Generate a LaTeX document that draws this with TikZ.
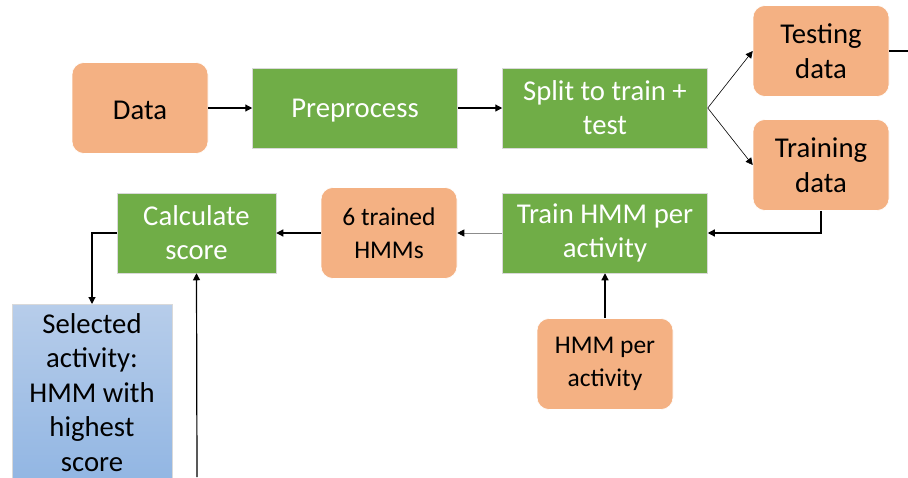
\documentclass[tikz,border=0pt]{standalone}
\usepackage{fontspec}
\setmainfont{Carlito}
\usetikzlibrary{arrows.meta}
\definecolor{boxorange}{HTML}{F4B183}
\definecolor{boxgreen}{HTML}{70AD47}
\definecolor{bluetop}{HTML}{B7CDEA}
\definecolor{bluebot}{HTML}{8DB3E2}
\tikzset{
  databox/.style={draw=white, line width=0.6pt, fill=boxorange, rounded corners=12pt,
    minimum width=136pt, minimum height=91pt, align=center, text=black,
    font=\fontsize{28.7}{34.5}\selectfont, inner sep=0pt},
  smallbox/.style={databox, font=\fontsize{25.5}{32.5}\selectfont},
  procbox/.style={draw=white!85!black, line width=0.5pt, fill=boxgreen,
    minimum width=205pt, minimum height=80pt, align=center, text=white,
    font=\fontsize{28.7}{34}\selectfont, inner sep=0pt},
  flow/.style={line width=1.2pt, -{Triangle[width=7pt,length=7pt]}},
  thinflow/.style={line width=0.6pt, -{Triangle[width=7pt,length=7pt]}},
}
\begin{document}
\begin{tikzpicture}[x=1pt,y=-1pt]
\useasboundingbox (0,0) rectangle (908,477);
% top row
\node[databox, text height=23pt, text depth=0pt] (data) at (140,108) {Data};
\node[procbox, text height=19pt, text depth=0pt] (pre) at (355,108) {Preprocess};
\node[procbox] (split) at (605,108) {Split to train +\\test};
\node[databox] (test) at (821,51) {Testing\\data};
\node[databox] (train) at (821,165) {Training\\data};
% middle row
\node[procbox] (hmm) at (605,233) {Train HMM per\\activity};
\node[smallbox] (trained) at (389,233) {6 trained\\HMMs};
\node[procbox, minimum width=159pt] (calc) at (196.5,233) {Calculate\\score};
\node[smallbox] (per) at (605,364) {HMM per\\activity};
% result box, running off the lower edge
\node[draw=white!85!black, line width=0.5pt, top color=bluetop, bottom color=bluebot,
  minimum width=160pt, minimum height=200pt, anchor=north, inner sep=0pt] (sel) at (92,304) {};
\node[align=center, anchor=north, font=\fontsize{28.7}{34.5}\selectfont, inner sep=0pt]
  (seltext) at (92,313) {Selected\\activity:\\HMM with\\highest\\score};
\coordinate (testout) at (908,51);
\coordinate (scorein) at (197,477);
% connectors
\draw[flow] (data) -- (pre);
\draw[flow] (pre) -- (split);
\draw[thinflow] (split.east) -- (test.west);
\draw[thinflow] (split.east) -- (train.west);
\draw[line width=1.2pt] (test.east) -- (testout);
\draw[flow] (train.south) |- (hmm.east);
\draw[flow] (per.north) -- (hmm.south);
\draw[line width=0.8pt, draw=black!45, -{Triangle[width=7pt,length=7pt,color=black]}] (hmm.west) -- (trained.east);
\draw[flow] (trained.west) -- (calc.east);
\draw[flow] (calc.west) -| (sel.north);
\draw[flow] (scorein) -- (calc.south);
\end{tikzpicture}
\end{document}
